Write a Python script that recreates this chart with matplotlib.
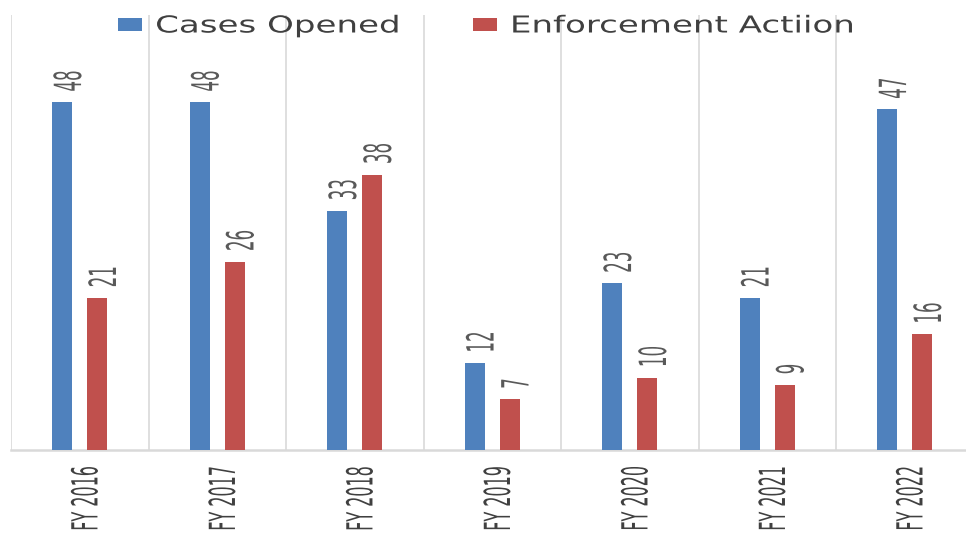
"""bar chart of cases opened vs enforcement actions by fiscal year"""
import matplotlib
matplotlib.use("Agg")
import matplotlib.pyplot as plt
import numpy as np
from matplotlib.patheffects import AbstractPathEffect
from matplotlib.transforms import Affine2D, ScaledTranslation

years = ["FY 2016", "FY 2017", "FY 2018", "FY 2019", "FY 2020", "FY 2021", "FY 2022"]
cases_opened = [48, 48, 33, 12, 23, 21, 47]
enforcement = [21, 26, 38, 7, 10, 9, 16]

blue = "#4F81BD"
red = "#C0504D"


class Stretch(AbstractPathEffect):
    """scale glyphs in their own frame: sx along the line, sy across it (about y=c)"""
    def __init__(self, sx=1.0, sy=1.0, c=0.0):
        super().__init__()
        self.pre = Affine2D().translate(0, -c).scale(sx, sy).translate(0, c)

    def draw_path(self, renderer, gc, tpath, affine, rgbFace=None):
        renderer.draw_path(gc, tpath, self.pre + affine, rgbFace)


tall = [Stretch(1.0, 2.25, 36)]

fig = plt.figure(figsize=(9.66, 5.34), dpi=100)
ax = fig.add_axes([0.0114, 0.1573, 0.9964, 0.8146])

x = np.arange(len(years))
w = 0.145
off = 0.127
b1 = ax.bar(x - off, cases_opened, w, color=blue, label="Cases Opened", zorder=3)
b2 = ax.bar(x + off, enforcement, w, color=red, label="Enforcement Actiion", zorder=3)

# value labels above bars
for bars, vals in ((b1, cases_opened), (b2, enforcement)):
    for rect, v in zip(bars, vals):
        ax.annotate(str(v), (rect.get_x() + rect.get_width() / 2, v),
                    xytext=(4.5, 7.5), textcoords="offset points",
                    ha="center", va="bottom", rotation=90,
                    fontsize=12, color="#595959", path_effects=tall)

# category separators
for b in np.arange(-0.5, len(years), 1.0):
    ax.axvline(b, color="#d9d9d9", lw=1.2, zorder=1)

ax.set_xlim(-0.5, len(years) - 0.5)
ax.set_ylim(0, 60)
ax.set_yticks([])
ax.set_xticks(x)
ax.set_xticklabels(years, rotation=90, fontsize=11.5, color="#404040")
ax.tick_params(axis="x", length=0, pad=11.5)
shift = ScaledTranslation(6 / 100, 0, fig.dpi_scale_trans)
for lab in ax.get_xticklabels():
    lab.set_path_effects(tall)
    lab.set_transform(lab.get_transform() + shift)
for s in ("top", "right", "left"):
    ax.spines[s].set_visible(False)
ax.spines["bottom"].set_color("#d9d9d9")
ax.spines["bottom"].set_linewidth(1.8)

leg = fig.legend(loc="center left", bbox_to_anchor=(118 / 966, 1 - 26 / 534), ncol=2,
                 frameon=False, fontsize=16.8, handlelength=1.03, handleheight=0.47,
                 handletextpad=0.56, columnspacing=6.4, borderpad=0, borderaxespad=0,
                 labelcolor="#404040")
for t in leg.get_texts():
    t.set_path_effects([Stretch(1.46, 1.0)])

fig.savefig("out.png", dpi=100)
